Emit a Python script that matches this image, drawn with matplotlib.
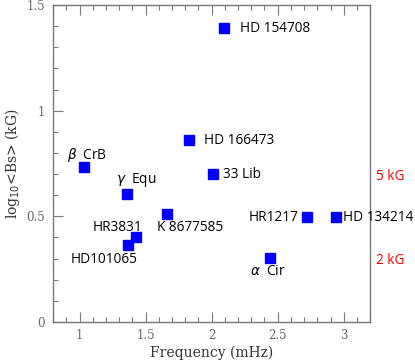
import numpy as np
import matplotlib
matplotlib.use("Agg")
import matplotlib.pyplot as plt
from matplotlib.ticker import MultipleLocator

# roAp stars: frequency vs log10 of mean field modulus
stars = ["HD 154708", "HD 166473", r"$\beta$  CrB", "33 Lib", r"$\gamma$  Equ",
         "K 8677585", "HR3831", "HD101065", "HR1217", "HD 134214", r"$\alpha$  Cir"]
freq = [2.09, 1.83, 1.03, 2.01, 1.36, 1.66, 1.43, 1.37, 2.72, 2.94, 2.44]
logB = [1.39, 0.86, 0.735, 0.70, 0.605, 0.51, 0.40, 0.363, 0.495, 0.495, 0.305]
# label offsets in pixels (dx, dy) and alignment
offs = [(16, 0, "left"), (15, 0, "left"), (-17, 12, "left"), (10, 0, "left"), (-11, 14, "left"),
        (-10, -13, "left"), (-44, 10, "left"), (-58, -14, "left"), (-8, 0, "right"),
        (7, 0, "left"), (-20, -14, "left")]
field_kG = [5, 2]

fig = plt.figure(figsize=(4.15, 3.63), dpi=100)
ax = fig.add_axes([0.128, 0.113, 0.764, 0.873])
grey = "#777777"

ax.plot(freq, logB, "s", color="blue", markersize=6.5, zorder=3)
for s, x, y, (dx, dy, ha) in zip(stars, freq, logB, offs):
    ax.annotate(s, (x, y), xytext=(dx, dy), textcoords="offset pixels",
                ha=ha, va="center", fontsize=9.8, family="Open Sans", color="black")

ax.set_xlim(0.8, 3.2)
ax.set_ylim(0, 1.5)
ax.xaxis.set_major_locator(MultipleLocator(0.5))
ax.xaxis.set_minor_locator(MultipleLocator(0.1))
ax.yaxis.set_major_locator(MultipleLocator(0.5))
ax.yaxis.set_minor_locator(MultipleLocator(0.1))
fmt = lambda v, p: ("%g" % v)
ax.xaxis.set_major_formatter(fmt)
ax.yaxis.set_major_formatter(fmt)
ax.tick_params(which="both", direction="in", top=True, right=True, color=grey,
               labelcolor="#666666", labelsize=8.5)
ax.tick_params(which="major", length=7, width=0.8)
ax.tick_params(which="minor", length=3.5, width=0.8)
for lab in ax.get_xticklabels() + ax.get_yticklabels():
    lab.set_family("DejaVu Serif")
    lab.set_fontweight("light")
for sp in ax.spines.values():
    sp.set_color(grey)
    sp.set_linewidth(1.0)
ax.tick_params(axis="x", pad=5)
ax.tick_params(axis="y", pad=6)

ax2 = ax.twinx()
ax2.set_ylim(ax.get_ylim())
ax2.set_yticks(np.log10(field_kG))
ax2.set_yticklabels(["%d kG" % f for f in field_kG], color="red", fontsize=9.8, family="Open Sans")
ax2.tick_params(axis="y", direction="in", length=0, pad=4)
for sp in ax2.spines.values():
    sp.set_visible(False)

ax.set_xlabel("Frequency (mHz)", family="DejaVu Serif", fontsize=10, color="#333333", labelpad=3)
ax.set_ylabel(r"log$_{10}$<Bs> (kG)", family="DejaVu Serif", fontsize=10, color="#333333", labelpad=3)

fig.savefig("out.png", dpi=100)
